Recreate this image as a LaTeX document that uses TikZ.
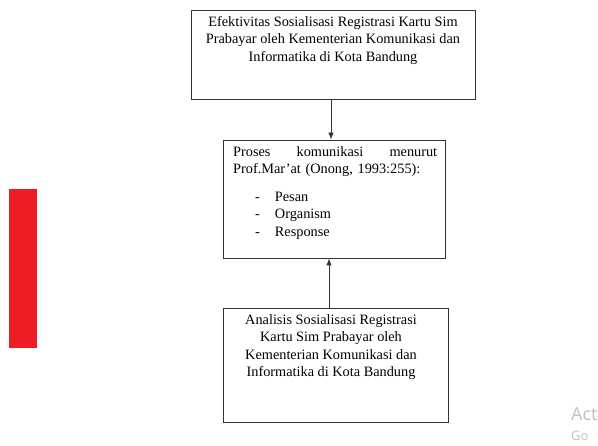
\documentclass[tikz,border=0pt]{standalone}
\usepackage{fontspec}
\setmainfont{Liberation Serif}
\newfontfamily\uifont{Open Sans}
\usetikzlibrary{arrows.meta}
\begin{document}
\begin{tikzpicture}[x=1pt,y=-1pt,
  box/.style={draw=black!80, line width=0.9pt, inner sep=0pt},
  txt/.style={inner sep=0pt, font=\fontsize{14.3}{17.6}\selectfont},
  arr/.style={draw=black!80, line width=0.9pt, -{Latex[length=7pt,width=5.5pt]}},
  wm/.style={inner sep=0pt, text=black!25, font=\uifont}]
\useasboundingbox (0,0) rectangle (598,446);
\fill[fill={rgb,255:red,238;green,29;blue,37}] (9,189) rectangle (37,348);
\node[box, minimum width=284pt, minimum height=89pt] (top) at (333,54.5) {};
\node[box, minimum width=222pt, minimum height=118pt] (mid) at (334,199) {};
\node[box, minimum width=225pt, minimum height=114pt] (bot) at (335.5,365) {};
\node[txt, anchor=north, align=center] (toptxt) at (333,16)
  {Efektivitas Sosialisasi Registrasi Kartu Sim\\Prabayar oleh Kementerian Komunikasi dan\\Informatika di Kota Bandung};
\node[txt, anchor=north west, text width=204pt, align=left] (midtxt) at (233,146)
  {Proses\hfill komunikasi\hfill menurut\\Prof.Mar’at (Onong, 1993:255):\\[10pt]
  \hspace*{22pt}-\hspace*{15pt}Pesan\\
  \hspace*{22pt}-\hspace*{15pt}Organism\\
  \hspace*{22pt}-\hspace*{15pt}Response};
\node[txt, anchor=north, align=center] (bottxt) at (331,314)
  {Analisis Sosialisasi Registrasi\\Kartu Sim Prabayar oleh\\Kementerian Komunikasi dan\\Informatika di Kota Bandung};
\coordinate (a1) at (331,99);
\coordinate (a2) at (329,308);
\draw[arr] (a1) -- (a1 |- mid.north);
\draw[arr] (a2) -- (a2 |- mid.south);
\node[wm, anchor=base west, font=\uifont\fontsize{18}{18}\selectfont] (act) at (571,421) {Act};
\node[wm, anchor=base west, font=\uifont\fontsize{13}{13}\selectfont] (go) at (571,441) {Go};
\end{tikzpicture}
\end{document}
